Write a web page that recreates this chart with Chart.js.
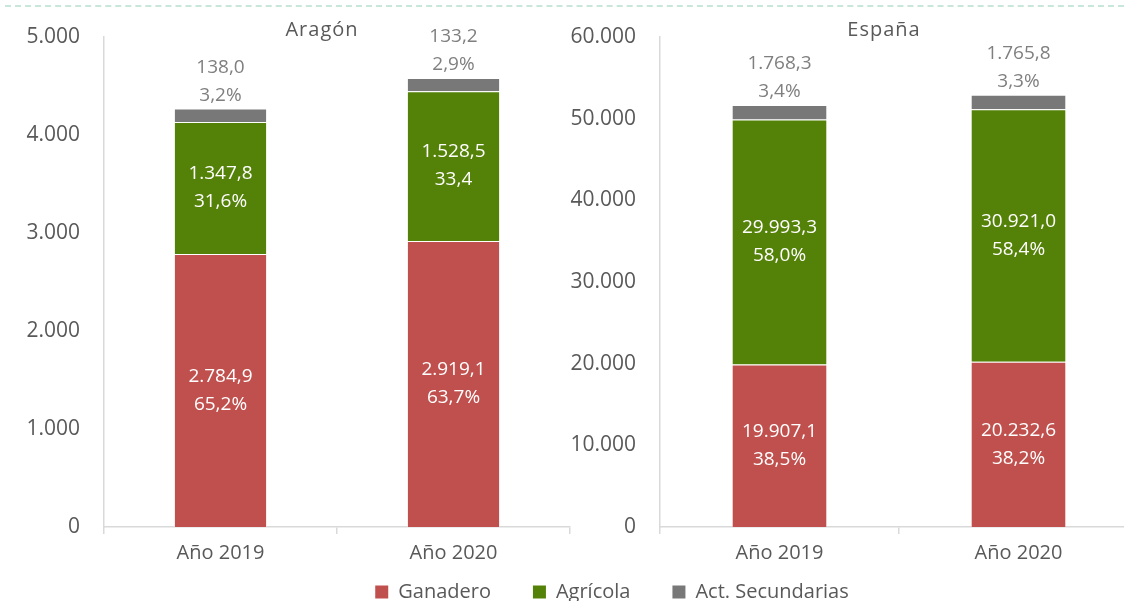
<!DOCTYPE html>
<html lang="es">
<head>
<meta charset="utf-8">
<title>Aragón y España</title>
<script src="https://cdn.jsdelivr.net/npm/chart.js@4.4.1/dist/chart.umd.min.js"></script>
<style>
  html, body { margin: 0; padding: 0; background: #fff; }
  body { width: 1124px; height: 601px; position: relative; overflow: hidden; }
  .topline { position: absolute; left: 5px; right: 0; top: 5px; border-top: 2px dashed #c8e6da; }
  canvas { position: absolute; }
  #aragonChart { left: 0; top: 0; }
  #espanaChart { left: 560px; top: 0; }
  #legendChart { left: 50px; top: 540px; }
</style>
</head>
<body>
<div class="topline"></div>
<canvas id="aragonChart" width="585" height="601"></canvas>
<canvas id="espanaChart" width="590" height="601"></canvas>
<canvas id="legendChart" width="1124" height="200"></canvas>
<script>
// categorias y series
const years = ["Año 2019", "Año 2020"];
const seriesNames = ["Ganadero", "Agrícola", "Act. Secundarias"];
const seriesColors = ["#c0504d", "#548208", "#787878"];

// Aragón
const aragonGanadero = [2784.9, 2919.1];
const aragonAgricola = [1347.8, 1528.5];
const aragonSecundarias = [138.0, 133.2];
const aragonGanaderoPct = ["65,2%", "63,7%"];
const aragonAgricolaPct = ["31,6%", "33,4"];
const aragonSecundariasPct = ["3,2%", "2,9%"];

// España
const espanaGanadero = [19907.1, 20232.6];
const espanaAgricola = [29993.3, 30921.0];
const espanaSecundarias = [1768.3, 1765.8];
const espanaGanaderoPct = ["38,5%", "38,2%"];
const espanaAgricolaPct = ["58,0%", "58,4%"];
const espanaSecundariasPct = ["3,4%", "3,3%"];

// ejes
const aragonMax = 5000;
const aragonStep = 1000;
const espanaMax = 60000;
const espanaStep = 10000;

const FONT = "'Open Sans', sans-serif";
const textGrey = "#595959";
const axisGrey = "#d9d9d9";

function groupThousands(intStr) {
  return intStr.replace(/\B(?=(\d{3})+(?!\d))/g, ".");
}

function fmtValue(v) {
  const parts = v.toFixed(1).split(".");
  return groupThousands(parts[0]) + "," + parts[1];
}

// titulo dentro del area del grafico
const panelTitle = {
  id: "panelTitle",
  afterDraw(chart, args, opts) {
    const ctx = chart.ctx;
    const area = chart.chartArea;
    ctx.save();
    ctx.font = "20px " + FONT;
    ctx.fillStyle = textGrey;
    ctx.textAlign = "center";
    ctx.textBaseline = "middle";
    if ("letterSpacing" in ctx) ctx.letterSpacing = "1px";
    ctx.fillText(opts.text, (area.left + area.right) / 2 - 15, area.top - 7);
    ctx.restore();
  }
};

// etiquetas de valor y porcentaje
const barLabels = {
  id: "barLabels",
  afterDatasetsDraw(chart) {
    const ctx = chart.ctx;
    ctx.save();
    ctx.font = "19px " + FONT;
    ctx.textAlign = "center";
    ctx.textBaseline = "middle";
    chart.data.datasets.forEach((ds, di) => {
      const meta = chart.getDatasetMeta(di);
      meta.data.forEach((bar, i) => {
        const valTxt = fmtValue(ds.data[i]);
        const pctTxt = ds.pct[i];
        if (di < 2) {
          const cy = (bar.y + bar.base) / 2;
          ctx.fillStyle = "#ffffff";
          ctx.fillText(valTxt, bar.x, cy - 14);
          ctx.fillText(pctTxt, bar.x, cy + 14);
        } else {
          ctx.fillStyle = "#7f7f7f";
          ctx.fillText(valTxt, bar.x, bar.y - 41);
          ctx.fillText(pctTxt, bar.x, bar.y - 13);
        }
      });
    });
    ctx.restore();
  }
};

function makePanel(canvasId, title, values, pcts, maxVal, step, yWidth, padRight) {
  const ctx = document.getElementById(canvasId).getContext("2d");
  return new Chart(ctx, {
    type: "bar",
    data: {
      labels: years,
      datasets: seriesNames.map((name, k) => ({
        label: name,
        data: values[k],
        pct: pcts[k],
        backgroundColor: seriesColors[k],
        borderColor: "rgba(255,255,255,0.45)",
        borderWidth: 1,
        barPercentage: 0.4,
        categoryPercentage: 1
      }))
    },
    options: {
      responsive: false,
      animation: false,
      layout: {
        padding: { left: 0, right: padRight, top: 37, bottom: 24 }
      },
      plugins: {
        legend: { display: false },
        tooltip: { enabled: false },
        panelTitle: { text: title }
      },
      scales: {
        x: {
          stacked: true,
          grid: {
            offset: true,
            drawOnChartArea: false,
            drawTicks: true,
            tickLength: 7,
            color: axisGrey,
            lineWidth: 1.5
          },
          border: { display: true, color: axisGrey, width: 1.5 },
          ticks: {
            color: textGrey,
            font: { family: FONT, size: 20 },
            padding: 7
          },
          afterFit(scale) { scale.height = 50; }
        },
        y: {
          stacked: true,
          min: 0,
          max: maxVal,
          grid: { display: false, drawTicks: false },
          border: { display: true, color: axisGrey, width: 1.5 },
          ticks: {
            stepSize: step,
            color: textGrey,
            font: { family: FONT, size: 21 },
            padding: 24,
            callback: (v) => groupThousands(String(v))
          },
          afterFit(scale) { scale.width = yWidth; }
        }
      }
    },
    plugins: [panelTitle, barLabels]
  });
}

makePanel(
  "aragonChart", "Aragón",
  [aragonGanadero, aragonAgricola, aragonSecundarias],
  [aragonGanaderoPct, aragonAgricolaPct, aragonSecundariasPct],
  aragonMax, aragonStep, 104, 15
);

makePanel(
  "espanaChart", "España",
  [espanaGanadero, espanaAgricola, espanaSecundarias],
  [espanaGanaderoPct, espanaAgricolaPct, espanaSecundariasPct],
  espanaMax, espanaStep, 100, 12
);

// leyenda comun
new Chart(document.getElementById("legendChart").getContext("2d"), {
  type: "bar",
  data: {
    labels: [],
    datasets: seriesNames.map((name, k) => ({
      label: name,
      data: [],
      backgroundColor: seriesColors[k],
      borderWidth: 0
    }))
  },
  options: {
    responsive: false,
    animation: false,
    layout: { padding: 0 },
    plugins: {
      tooltip: { enabled: false },
      legend: {
        position: "top",
        labels: {
          color: textGrey,
          font: { family: FONT, size: 20 },
          boxWidth: 13,
          boxHeight: 13,
          padding: 42
        }
      }
    },
    scales: {
      x: { display: false },
      y: { display: false }
    }
  }
});
</script>
</body>
</html>
